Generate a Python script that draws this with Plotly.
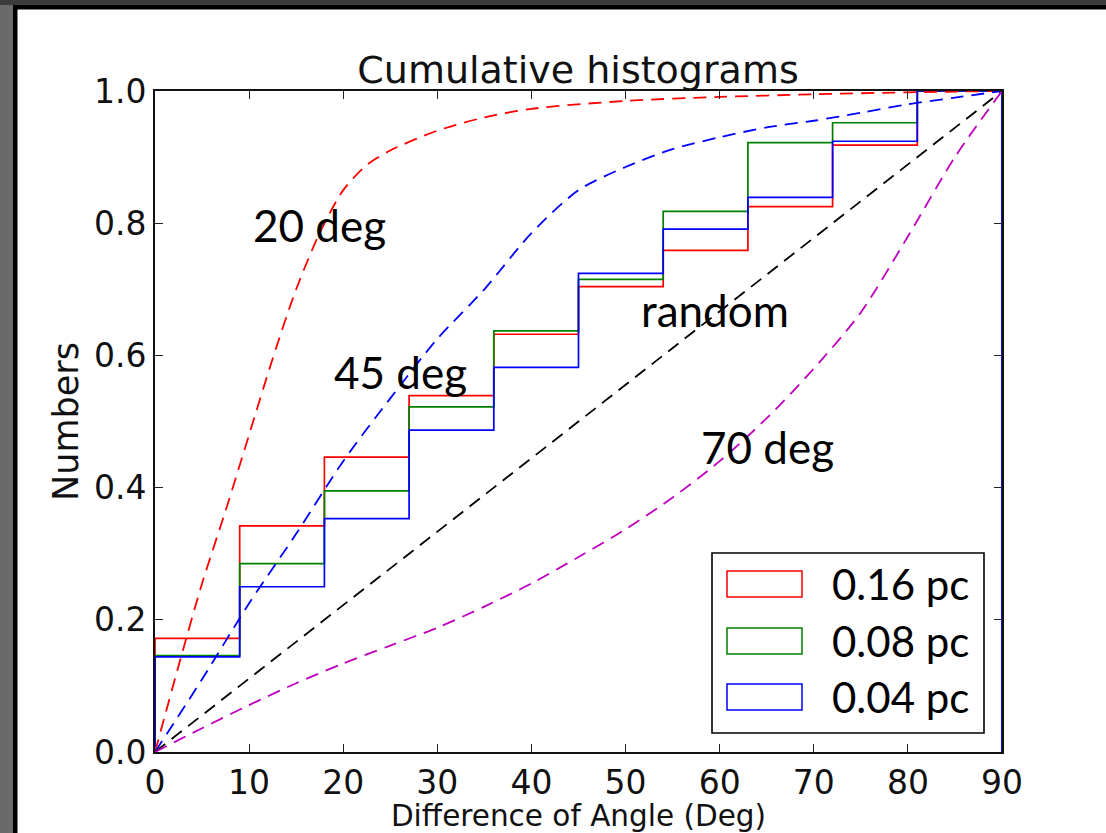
import plotly.graph_objects as go

# ---------------- data ----------------
bin_edges = [0, 9, 18, 27, 36, 45, 54, 63, 72, 81]
hist_016 = [0.172, 0.342, 0.446, 0.539, 0.632, 0.704, 0.759, 0.825, 0.918, 1.0]
hist_008 = [0.146, 0.285, 0.395, 0.522, 0.637, 0.715, 0.818, 0.922, 0.952, 1.0]
hist_004 = [0.144, 0.250, 0.353, 0.487, 0.582, 0.724, 0.791, 0.839, 0.924, 1.0]

deg20_x = [0, 2.5, 5, 7.5, 10, 12.5, 15, 17.5, 20, 22.5, 25, 30, 35, 40, 50, 60, 70, 80, 90]
deg20_y = [0, 0.13, 0.255, 0.365, 0.48, 0.595, 0.70, 0.785, 0.85, 0.888, 0.91, 0.94, 0.96, 0.973, 0.985, 0.991, 0.995, 0.998, 1.0]

deg45_x = [0, 5, 10, 15, 20, 25, 30, 35, 40, 45, 50, 55, 60, 65, 70, 75, 80, 85, 90]
deg45_y = [0, 0.11, 0.225, 0.33, 0.44, 0.535, 0.625, 0.70, 0.785, 0.85, 0.885, 0.912, 0.93, 0.945, 0.955, 0.967, 0.98, 0.99, 1.0]

random_x = [0, 90]
random_y = [0, 1.0]

deg70_x = [0, 5, 10, 15, 20, 25, 30, 35, 40, 45, 50, 55, 60, 65, 70, 75, 80, 85, 90]
deg70_y = [0, 0.036, 0.071, 0.104, 0.134, 0.161, 0.188, 0.22, 0.255, 0.295, 0.337, 0.385, 0.44, 0.505, 0.58, 0.665, 0.78, 0.90, 1.0]

series_names = ["0.16 pc", "0.08 pc", "0.04 pc"]
series_colors = ["#ff0000", "#008000", "#0000ff"]

x_ticks = [0, 10, 20, 30, 40, 50, 60, 70, 80, 90]
y_ticks = [0.0, 0.2, 0.4, 0.6, 0.8, 1.0]

curve_labels = [("20 deg", 10.2, 0.797), ("45 deg", 18.8, 0.575),
                ("random", 51.4, 0.668), ("70 deg", 57.8, 0.461)]

# ---------------- layout geometry ----------------
W, H = 1106, 833
L, R, T, B = 155, 1002, 91, 752


def px(xp):
    return (xp - L) / (R - L)


def py(yp):
    return (B - yp) / (B - T)


fig = go.Figure()

for name, col, vals in zip(series_names, series_colors, [hist_016, hist_008, hist_004]):
    xs = [bin_edges[0]] + bin_edges + [90, 90]
    ys = [0] + vals + [vals[-1], 0]
    fig.add_trace(go.Scatter(x=xs, y=ys, mode="lines", line=dict(color=col, width=1.7, shape="hv"),
                             name=name, showlegend=False))

dash = "13px,8px"
for xs, ys, col in [(deg20_x, deg20_y, "#ff0000"), (deg45_x, deg45_y, "#0000ff"),
                    (random_x, random_y, "#000000"), (deg70_x, deg70_y, "#bf00bf")]:
    fig.add_trace(go.Scatter(x=xs, y=ys, mode="lines",
                             line=dict(color=col, width=1.8, dash=dash, shape="spline", smoothing=0.8),
                             showlegend=False))

shapes = []
# frame decorations
shapes.append(dict(type="rect", xref="paper", yref="paper", x0=px(0), x1=px(14), y0=py(H), y1=py(0),
                   fillcolor="#6a6a6a", line=dict(width=0), layer="below"))
shapes.append(dict(type="rect", xref="paper", yref="paper", x0=px(0), x1=px(W), y0=py(5), y1=py(0),
                   fillcolor="#3c3c3c", line=dict(width=0), layer="below"))
shapes.append(dict(type="rect", xref="paper", yref="paper", x0=px(13), x1=px(17.5), y0=py(H), y1=py(5),
                   fillcolor="#000000", line=dict(width=0), layer="below"))
shapes.append(dict(type="rect", xref="paper", yref="paper", x0=px(13), x1=px(W), y0=py(9.5), y1=py(5),
                   fillcolor="#000000", line=dict(width=0), layer="below"))

# legend box
shapes.append(dict(type="rect", xref="paper", yref="paper", x0=px(712), x1=px(984), y0=py(733), y1=py(553),
                   fillcolor="white", line=dict(color="black", width=1.6), layer="above"))
annotations = []
row_centers = [584, 641, 697]
for name, col, yc in zip(series_names, series_colors, row_centers):
    shapes.append(dict(type="rect", xref="paper", yref="paper", x0=px(727), x1=px(802),
                       y0=py(yc + 13), y1=py(yc - 13), fillcolor="rgba(0,0,0,0)",
                       line=dict(color=col, width=1.5), layer="above"))
    annotations.append(dict(x=px(830), y=py(yc), xref="paper", yref="paper", text=name, showarrow=False,
                            xanchor="left", yanchor="middle", font=dict(family="Lato", size=42, color="black")))

for txt, xv, yv in curve_labels:
    annotations.append(dict(x=xv, y=yv, xref="x", yref="y", text=txt, showarrow=False,
                            xanchor="left", yanchor="middle", font=dict(family="Lato", size=44, color="black")))

axis_common = dict(showgrid=False, zeroline=False, showline=True, linecolor="#111111", linewidth=1.8,
                   mirror="ticks", ticks="inside", ticklen=8, tickwidth=1.2, tickcolor="#222222",
                   automargin=False,
                   tickfont=dict(family="DejaVu Sans", size=33, color="#111111"))

fig.update_layout(
    width=W, height=H,
    margin=dict(l=L, r=W - R, t=T, b=H - B, pad=0, autoexpand=False),
    paper_bgcolor="white", plot_bgcolor="white",
    title=dict(text="Cumulative histograms", xref="paper", x=px(578), xanchor="center",
               yref="container", y=1 - 70 / H, yanchor="middle",
               font=dict(family="DejaVu Sans", size=38, color="#111111")),
    xaxis=dict(range=[0, 90], tickvals=x_ticks, ticktext=[str(v) for v in x_ticks],
               title=dict(text="Difference of Angle (Deg)", font=dict(family="DejaVu Sans", size=29.5, color="#111111"),
                          standoff=5),
               **axis_common),
    yaxis=dict(range=[0, 1.0], tickvals=y_ticks, ticktext=["%.1f" % v for v in y_ticks],
               title=dict(text="Numbers", font=dict(family="DejaVu Sans", size=35, color="#111111"), standoff=5),
               **axis_common),
    shapes=shapes,
    annotations=annotations,
    showlegend=False,
)

fig.write_html("out.html")
